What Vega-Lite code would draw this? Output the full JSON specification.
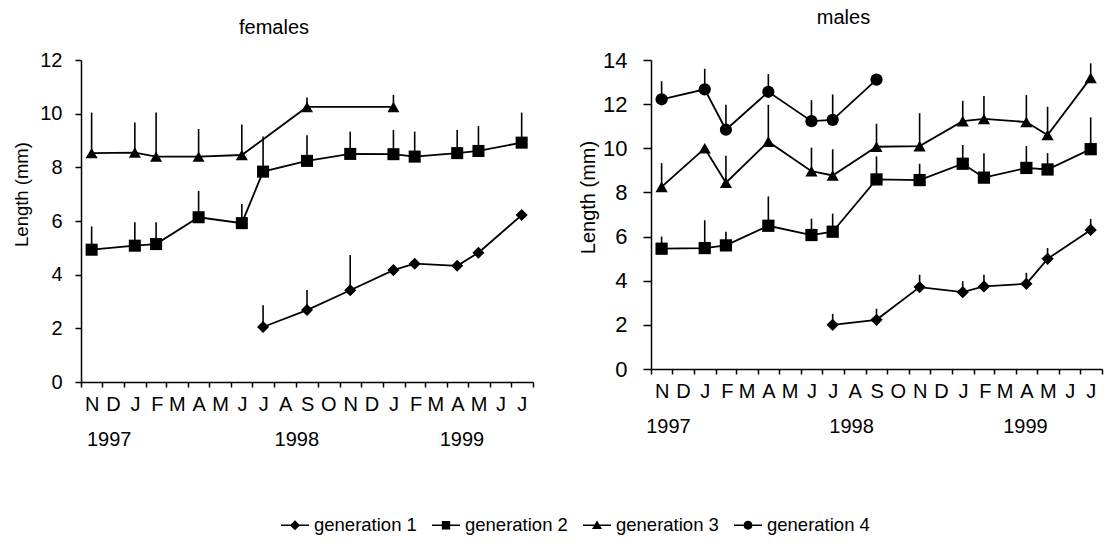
{
  "$schema": "https://vega.github.io/schema/vega-lite/v6.json",
  "background": "white",
  "padding": {"left": 12, "top": 8, "right": 0, "bottom": 0},
  "bounds": "flush",
  "spacing": 118,
  "config": {
    "view": {"stroke": null},
    "font": "Liberation Sans",
    "axis": {"grid": false, "domainColor": "black", "tickColor": "black", "labelColor": "black", "titleColor": "black", "domainWidth": 1.5, "tickWidth": 1.5, "labelFont": "Liberation Sans", "titleFont": "Liberation Sans", "titleFontWeight": "normal"},
    "title": {"font": "Liberation Sans", "fontWeight": "normal", "color": "black", "fontSize": 20},
    "legend": {"labelFont": "Liberation Sans", "labelColor": "black"}
  },
  "datasets": {
    "lengths": [
      {"sex": "females", "generation": "generation 1", "date": "1998-07-16", "length": 2.05, "upper": 2.86},
      {"sex": "females", "generation": "generation 1", "date": "1998-09-16", "length": 2.68, "upper": 3.43},
      {"sex": "females", "generation": "generation 1", "date": "1998-11-16", "length": 3.42, "upper": 4.73},
      {"sex": "females", "generation": "generation 1", "date": "1999-01-16", "length": 4.17, "upper": 4.17},
      {"sex": "females", "generation": "generation 1", "date": "1999-02-15", "length": 4.41, "upper": 4.41},
      {"sex": "females", "generation": "generation 1", "date": "1999-04-16", "length": 4.33, "upper": 4.33},
      {"sex": "females", "generation": "generation 1", "date": "1999-05-16", "length": 4.82, "upper": 4.82},
      {"sex": "females", "generation": "generation 1", "date": "1999-07-16", "length": 6.22, "upper": 6.22},
      {"sex": "females", "generation": "generation 2", "date": "1997-11-16", "length": 4.93, "upper": 5.8},
      {"sex": "females", "generation": "generation 2", "date": "1998-01-16", "length": 5.08, "upper": 5.95},
      {"sex": "females", "generation": "generation 2", "date": "1998-02-15", "length": 5.14, "upper": 5.95},
      {"sex": "females", "generation": "generation 2", "date": "1998-04-16", "length": 6.14, "upper": 7.12},
      {"sex": "females", "generation": "generation 2", "date": "1998-06-16", "length": 5.92, "upper": 6.63},
      {"sex": "females", "generation": "generation 2", "date": "1998-07-16", "length": 7.84, "upper": 9.15},
      {"sex": "females", "generation": "generation 2", "date": "1998-09-16", "length": 8.24, "upper": 9.2},
      {"sex": "females", "generation": "generation 2", "date": "1998-11-16", "length": 8.5, "upper": 9.33},
      {"sex": "females", "generation": "generation 2", "date": "1999-01-16", "length": 8.49, "upper": 9.39},
      {"sex": "females", "generation": "generation 2", "date": "1999-02-15", "length": 8.4, "upper": 9.33},
      {"sex": "females", "generation": "generation 2", "date": "1999-04-16", "length": 8.53, "upper": 9.39},
      {"sex": "females", "generation": "generation 2", "date": "1999-05-16", "length": 8.61, "upper": 9.54},
      {"sex": "females", "generation": "generation 2", "date": "1999-07-16", "length": 8.92, "upper": 10.04},
      {"sex": "females", "generation": "generation 3", "date": "1997-11-16", "length": 8.53, "upper": 10.04},
      {"sex": "females", "generation": "generation 3", "date": "1998-01-16", "length": 8.55, "upper": 9.67},
      {"sex": "females", "generation": "generation 3", "date": "1998-02-15", "length": 8.4, "upper": 10.04},
      {"sex": "females", "generation": "generation 3", "date": "1998-04-16", "length": 8.4, "upper": 9.43},
      {"sex": "females", "generation": "generation 3", "date": "1998-06-16", "length": 8.46, "upper": 9.6},
      {"sex": "females", "generation": "generation 3", "date": "1998-09-16", "length": 10.25, "upper": 10.6},
      {"sex": "females", "generation": "generation 3", "date": "1999-01-16", "length": 10.25, "upper": 10.7},
      {"sex": "males", "generation": "generation 1", "date": "1998-07-16", "length": 2.0, "upper": 2.5},
      {"sex": "males", "generation": "generation 1", "date": "1998-09-16", "length": 2.23, "upper": 2.73},
      {"sex": "males", "generation": "generation 1", "date": "1998-11-16", "length": 3.71, "upper": 4.27},
      {"sex": "males", "generation": "generation 1", "date": "1999-01-16", "length": 3.48, "upper": 3.98},
      {"sex": "males", "generation": "generation 1", "date": "1999-02-15", "length": 3.74, "upper": 4.27},
      {"sex": "males", "generation": "generation 1", "date": "1999-04-16", "length": 3.86, "upper": 4.36},
      {"sex": "males", "generation": "generation 1", "date": "1999-05-16", "length": 4.99, "upper": 5.48},
      {"sex": "males", "generation": "generation 1", "date": "1999-07-16", "length": 6.3, "upper": 6.8},
      {"sex": "males", "generation": "generation 2", "date": "1997-11-16", "length": 5.45, "upper": 6.0},
      {"sex": "males", "generation": "generation 2", "date": "1998-01-16", "length": 5.48, "upper": 6.74},
      {"sex": "males", "generation": "generation 2", "date": "1998-02-15", "length": 5.6, "upper": 6.22},
      {"sex": "males", "generation": "generation 2", "date": "1998-04-16", "length": 6.49, "upper": 7.82},
      {"sex": "males", "generation": "generation 2", "date": "1998-06-16", "length": 6.07, "upper": 6.81},
      {"sex": "males", "generation": "generation 2", "date": "1998-07-16", "length": 6.22, "upper": 7.04},
      {"sex": "males", "generation": "generation 2", "date": "1998-09-16", "length": 8.59, "upper": 9.63},
      {"sex": "males", "generation": "generation 2", "date": "1998-11-16", "length": 8.56, "upper": 9.3},
      {"sex": "males", "generation": "generation 2", "date": "1999-01-16", "length": 9.3, "upper": 10.15},
      {"sex": "males", "generation": "generation 2", "date": "1999-02-15", "length": 8.67, "upper": 9.78},
      {"sex": "males", "generation": "generation 2", "date": "1999-04-16", "length": 9.11, "upper": 10.1},
      {"sex": "males", "generation": "generation 2", "date": "1999-05-16", "length": 9.04, "upper": 9.78},
      {"sex": "males", "generation": "generation 2", "date": "1999-07-16", "length": 9.96, "upper": 11.4},
      {"sex": "males", "generation": "generation 3", "date": "1997-11-16", "length": 8.25, "upper": 9.33},
      {"sex": "males", "generation": "generation 3", "date": "1998-01-16", "length": 10.0, "upper": 10.0},
      {"sex": "males", "generation": "generation 3", "date": "1998-02-15", "length": 8.44, "upper": 9.66},
      {"sex": "males", "generation": "generation 3", "date": "1998-04-16", "length": 10.3, "upper": 11.97},
      {"sex": "males", "generation": "generation 3", "date": "1998-06-16", "length": 8.96, "upper": 10.03},
      {"sex": "males", "generation": "generation 3", "date": "1998-07-16", "length": 8.77, "upper": 9.96},
      {"sex": "males", "generation": "generation 3", "date": "1998-09-16", "length": 10.07, "upper": 11.11},
      {"sex": "males", "generation": "generation 3", "date": "1998-11-16", "length": 10.1, "upper": 11.59},
      {"sex": "males", "generation": "generation 3", "date": "1999-01-16", "length": 11.23, "upper": 12.15},
      {"sex": "males", "generation": "generation 3", "date": "1999-02-15", "length": 11.33, "upper": 12.37},
      {"sex": "males", "generation": "generation 3", "date": "1999-04-16", "length": 11.19, "upper": 12.41},
      {"sex": "males", "generation": "generation 3", "date": "1999-05-16", "length": 10.6, "upper": 11.88},
      {"sex": "males", "generation": "generation 3", "date": "1999-07-16", "length": 13.19, "upper": 13.85},
      {"sex": "males", "generation": "generation 4", "date": "1997-11-16", "length": 12.22, "upper": 13.04},
      {"sex": "males", "generation": "generation 4", "date": "1998-01-16", "length": 12.67, "upper": 13.6},
      {"sex": "males", "generation": "generation 4", "date": "1998-02-15", "length": 10.84, "upper": 11.97},
      {"sex": "males", "generation": "generation 4", "date": "1998-04-16", "length": 12.56, "upper": 13.36},
      {"sex": "males", "generation": "generation 4", "date": "1998-06-16", "length": 11.23, "upper": 12.18},
      {"sex": "males", "generation": "generation 4", "date": "1998-07-16", "length": 11.29, "upper": 12.44},
      {"sex": "males", "generation": "generation 4", "date": "1998-09-16", "length": 13.11, "upper": 13.11}
    ]
  },
  "resolve": {"scale": {"shape": "independent"}},
  "hconcat": [
    {
      "width": 452,
      "height": 322,
      "title": {"text": "females", "offset": 12, "dx": -33},
      "data": {"name": "lengths"},
      "transform": [{"filter": "datum.sex === 'females'"}],
      "resolve": {"scale": {"shape": "independent"}, "axis": {"x": "independent"}},
      "layer": [
        {
          "mark": {"type": "rule", "color": "black", "strokeWidth": 1.6},
          "encoding": {
            "x": {"field": "date", "type": "temporal",
              "scale": {"type": "utc", "domain": [{"year": 1997, "month": 11, "date": 1, "utc": true}, {"year": 1999, "month": 8, "date": 1, "utc": true}]},
              "axis": {"orient": "bottom", "title": null, "tickCount": {"interval": "month", "step": 1}, "tickSize": 5, "labelPadding": 7, "labelOffset": 10.75, "labelFontSize": 20, "labelOverlap": false, "labelFlush": false, "labelBound": false, "labelAlign": "center",
                "labelExpr": "datum.value >= utc(1999,7,1) ? '' : slice(utcFormat(datum.value, '%b'), 0, 1)"}},
            "y": {"field": "length", "type": "quantitative", "scale": {"domain": [0, 12], "nice": false},
              "axis": {"title": "Length (mm)", "values": [0, 2, 4, 6, 8, 10, 12], "tickSize": 6, "labelPadding": 13, "labelFontSize": 20, "titleFontSize": 18.5, "titlePadding": 8, "titleY": 134}},
            "y2": {"field": "upper"}
          }
        },
        {
          "mark": {"type": "line", "color": "black", "strokeWidth": 1.8},
          "encoding": {
            "x": {"field": "date", "type": "temporal",
              "axis": {"orient": "bottom", "title": null, "ticks": false, "domain": false, "labelPadding": 47, "labelFontSize": 20, "labelOverlap": false, "labelFlush": false, "labelBound": false,
                "values": [{"year": 1997, "month": 12, "date": 10, "utc": true}, {"year": 1998, "month": 9, "date": 1, "utc": true}, {"year": 1999, "month": 4, "date": 22, "utc": true}],
                "labelExpr": "utcFormat(datum.value, '%Y')"}},
            "y": {"field": "length", "type": "quantitative"},
            "detail": {"field": "generation"}
          }
        },
        {
          "mark": {"type": "point", "filled": true, "color": "black", "opacity": 1, "size": 145},
          "encoding": {
            "x": {"field": "date", "type": "temporal", "axis": null},
            "y": {"field": "length", "type": "quantitative"},
            "shape": {"field": "generation", "type": "nominal",
              "scale": {"domain": ["generation 1", "generation 2", "generation 3", "generation 4"], "range": ["diamond", "square", "triangle-up", "circle"]},
              "legend": null}
          }
        },
        {
          "transform": [{"filter": "false"}],
          "mark": {"type": "point", "filled": true, "color": "black", "opacity": 1},
          "encoding": {
            "shape": {"field": "generation", "type": "nominal",
              "scale": {"domain": ["generation 1", "generation 2", "generation 3", "generation 4"],
                "range": [
                  "M-1,-0.06L1,-0.06L1,0.06L-1,0.06ZM-0.36,0L0,-0.36L0.36,0L0,0.36Z",
                  "M-1,-0.06L1,-0.06L1,0.06L-1,0.06ZM-0.3,-0.3L0.3,-0.3L0.3,0.3L-0.3,0.3Z",
                  "M-1,-0.06L1,-0.06L1,0.06L-1,0.06ZM0,-0.34L0.36,0.27L-0.36,0.27Z",
                  "M-1,-0.06L1,-0.06L1,0.06L-1,0.06ZM-0.32,0A0.32,0.32 0 1,1 0.32,0A0.32,0.32 0 1,1 -0.32,0Z"
                ]},
              "legend": {"orient": "none", "legendX": 199, "legendY": 450, "direction": "horizontal", "columns": 4, "title": null,
                "symbolSize": 784, "symbolFillColor": "black", "symbolOpacity": 1,
                "labelFontSize": 18.5, "labelOffset": 4, "columnPadding": 12}}
          }
        }
      ]
    },
    {
      "width": 451,
      "height": 309,
      "title": {"text": "males", "offset": 21, "dx": -33},
      "data": {"name": "lengths"},
      "transform": [{"filter": "datum.sex === 'males'"}],
      "resolve": {"axis": {"x": "independent"}},
      "layer": [
        {
          "mark": {"type": "rule", "color": "black", "strokeWidth": 1.6},
          "encoding": {
            "x": {"field": "date", "type": "temporal",
              "scale": {"type": "utc", "domain": [{"year": 1997, "month": 11, "date": 1, "utc": true}, {"year": 1999, "month": 8, "date": 1, "utc": true}]},
              "axis": {"orient": "bottom", "title": null, "tickCount": {"interval": "month", "step": 1}, "tickSize": 5, "labelPadding": 7, "labelOffset": 10.75, "labelFontSize": 20, "labelOverlap": false, "labelFlush": false, "labelBound": false, "labelAlign": "center",
                "labelExpr": "datum.value >= utc(1999,7,1) ? '' : slice(utcFormat(datum.value, '%b'), 0, 1)"}},
            "y": {"field": "length", "type": "quantitative", "scale": {"domain": [0, 14], "nice": false},
              "axis": {"title": "Length (mm)", "values": [0, 2, 4, 6, 8, 10, 12, 14], "tickSize": 8, "labelPadding": 16, "labelFontSize": 22, "titleFontSize": 20, "titlePadding": 4, "titleY": 137}},
            "y2": {"field": "upper"}
          }
        },
        {
          "mark": {"type": "line", "color": "black", "strokeWidth": 1.8},
          "encoding": {
            "x": {"field": "date", "type": "temporal",
              "axis": {"orient": "bottom", "title": null, "ticks": false, "domain": false, "labelPadding": 47, "labelFontSize": 20, "labelOverlap": false, "labelFlush": false, "labelBound": false,
                "values": [{"year": 1997, "month": 11, "date": 25, "utc": true}, {"year": 1998, "month": 8, "date": 11, "utc": true}, {"year": 1999, "month": 4, "date": 14, "utc": true}],
                "labelExpr": "utcFormat(datum.value, '%Y')"}},
            "y": {"field": "length", "type": "quantitative"},
            "detail": {"field": "generation"}
          }
        },
        {
          "mark": {"type": "point", "filled": true, "color": "black", "opacity": 1, "size": 150},
          "encoding": {
            "x": {"field": "date", "type": "temporal", "axis": null},
            "y": {"field": "length", "type": "quantitative"},
            "shape": {"field": "generation", "type": "nominal",
              "scale": {"domain": ["generation 1", "generation 2", "generation 3", "generation 4"], "range": ["diamond", "square", "triangle-up", "circle"]},
              "legend": null}
          }
        }
      ]
    }
  ]
}
